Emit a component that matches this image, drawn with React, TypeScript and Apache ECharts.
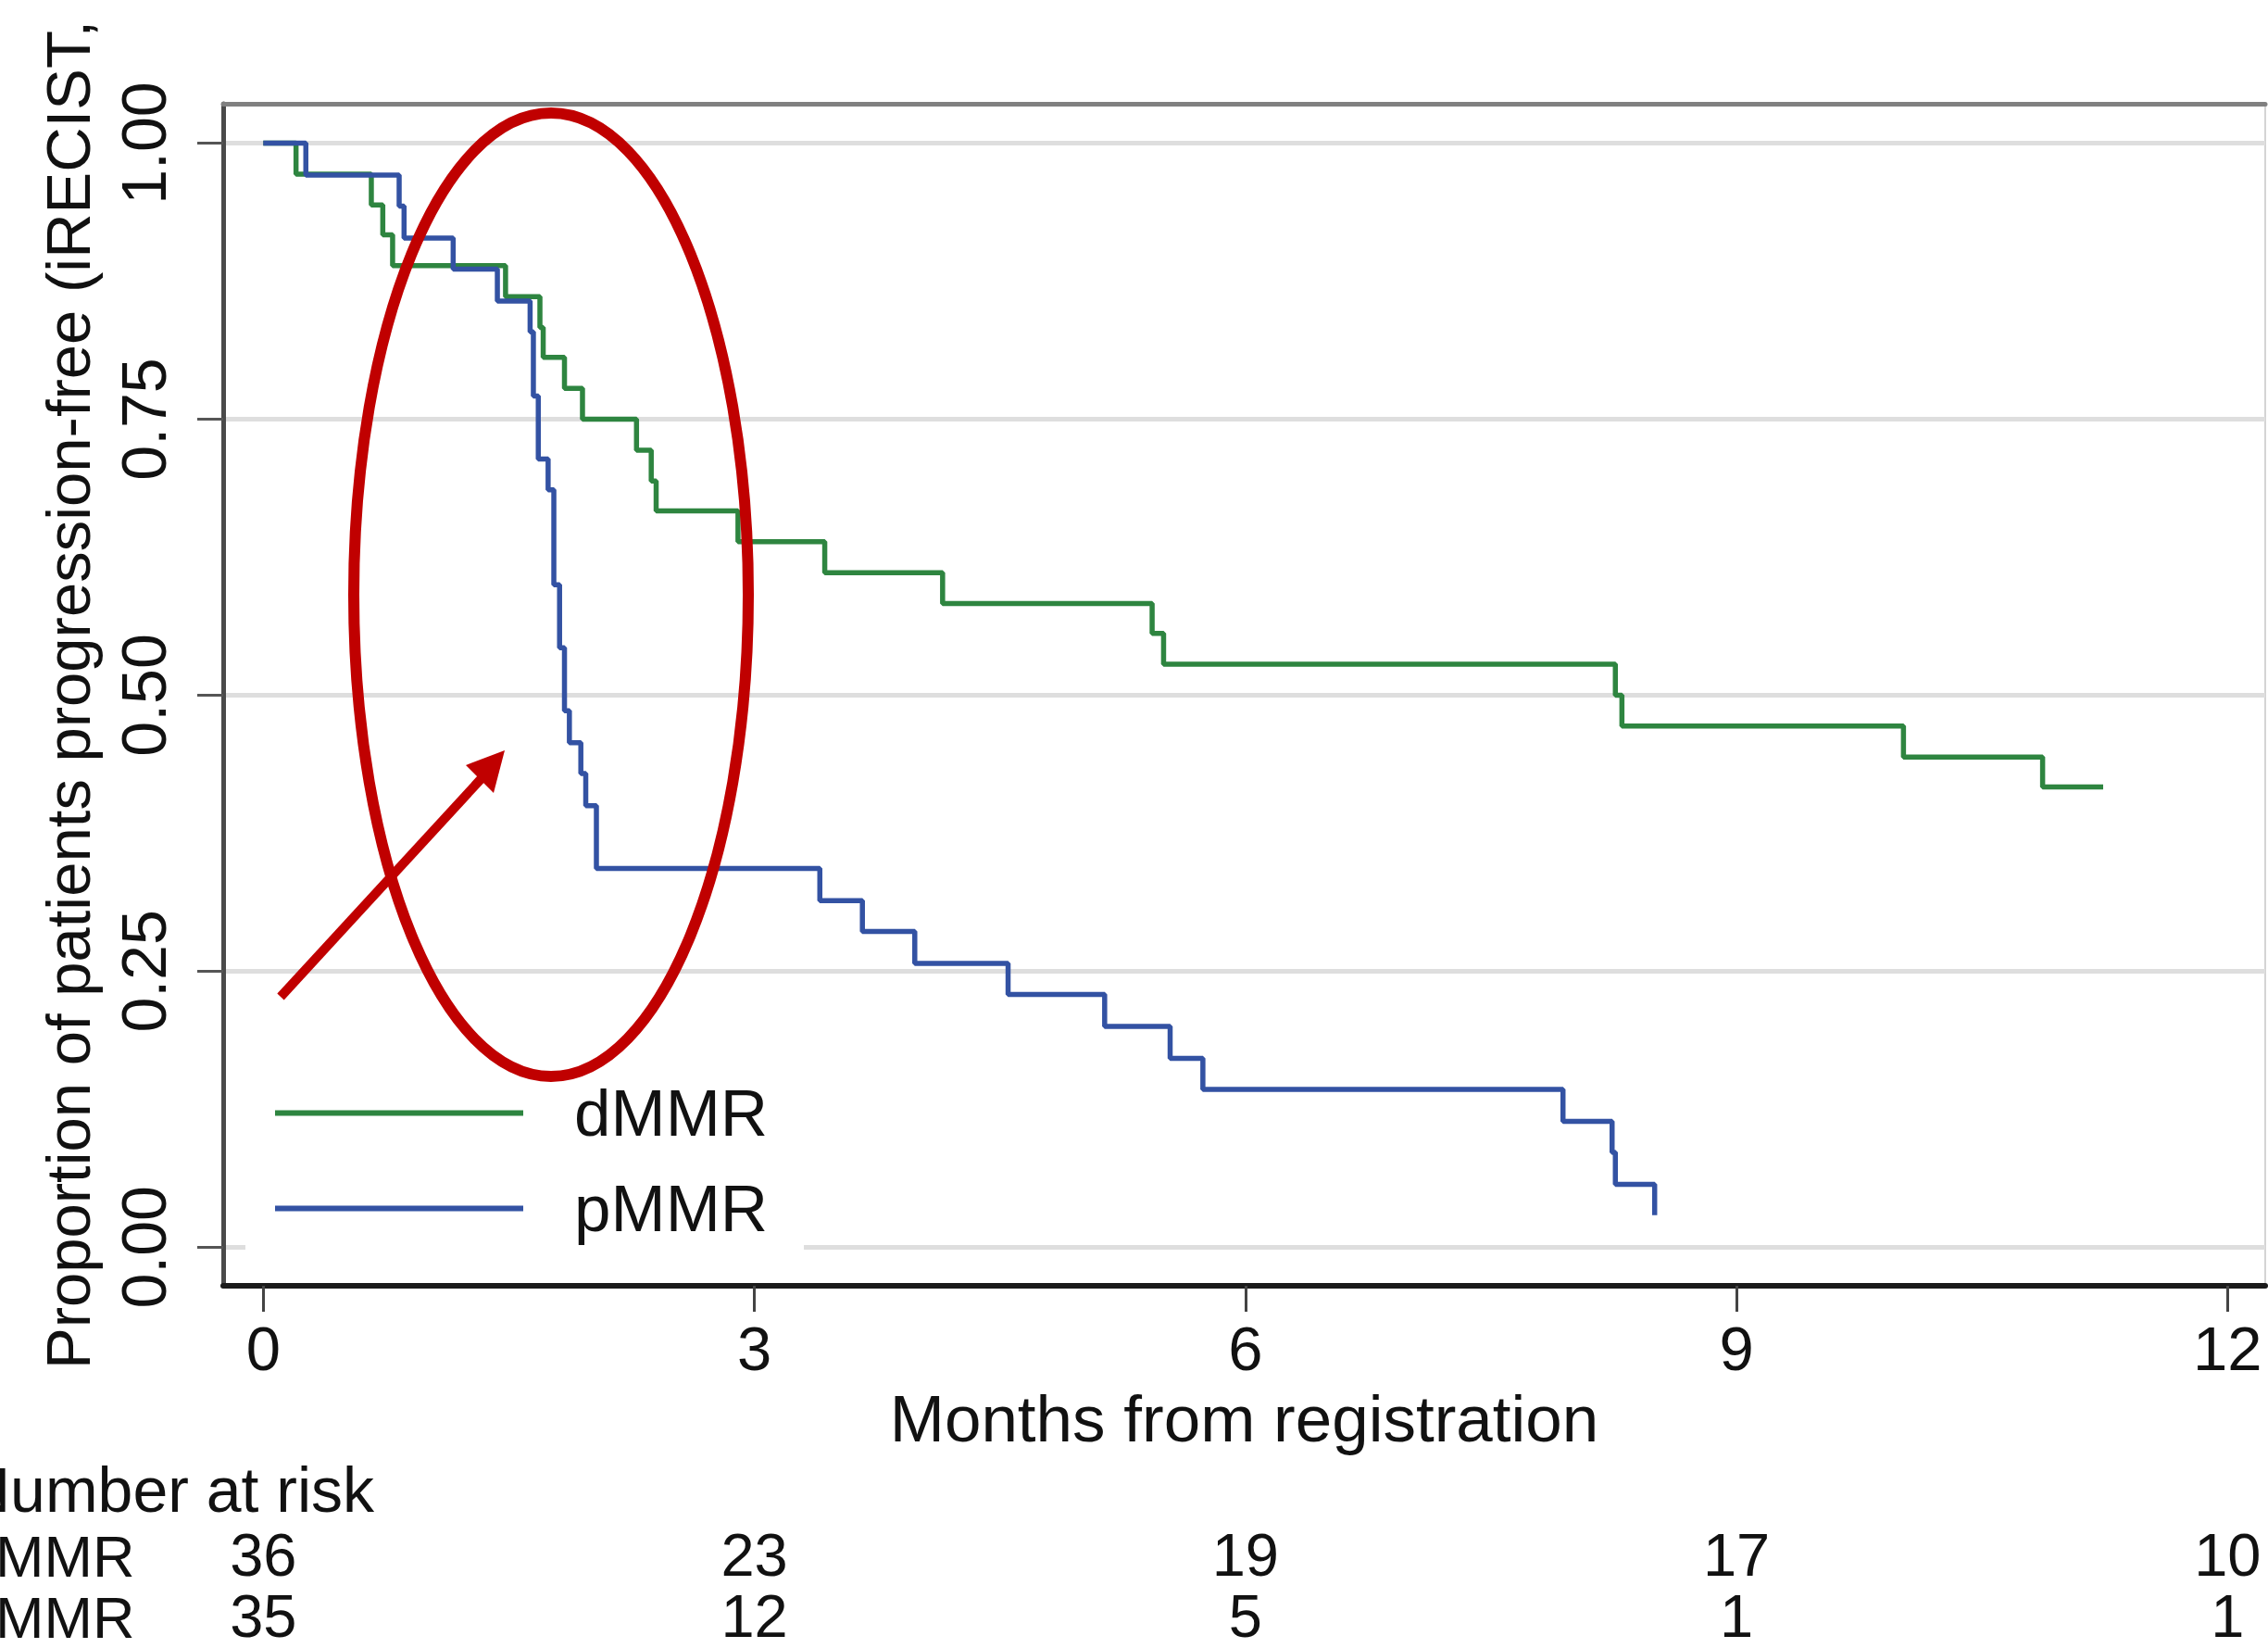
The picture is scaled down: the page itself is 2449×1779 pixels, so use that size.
import React, { useEffect, useRef } from "react";
import * as echarts from "echarts";

const FONT = "'Liberation Sans', Arial, Helvetica, sans-serif";

// Kaplan-Meier step data (months, proportion progression-free)
const dMMRTimes = [0, 0.2, 0.66, 0.73, 0.79, 1.48, 1.69, 1.71, 1.84, 1.95, 2.28, 2.37, 2.4, 2.9, 3.43, 4.15, 5.43, 5.5, 8.26, 8.3, 10.02, 10.87, 11.24];
const dMMRSurv = [1, 0.972, 0.944, 0.917, 0.889, 0.861, 0.833, 0.806, 0.778, 0.75, 0.722, 0.694, 0.667, 0.639, 0.611, 0.583, 0.556, 0.528, 0.5, 0.472, 0.444, 0.417, 0.417];

const pMMRTimes = [0, 0.26, 0.83, 0.86, 1.16, 1.43, 1.63, 1.65, 1.68, 1.74, 1.775, 1.81, 1.84, 1.87, 1.94, 1.97, 2.035, 3.4, 3.66, 3.98, 4.55, 5.14, 5.54, 5.74, 7.94, 8.24, 8.26, 8.5];
const pMMRSurv = [1, 0.971, 0.943, 0.914, 0.886, 0.857, 0.829, 0.771, 0.714, 0.686, 0.6, 0.543, 0.486, 0.457, 0.429, 0.4, 0.343, 0.314, 0.286, 0.257, 0.229, 0.2, 0.171, 0.143, 0.114, 0.086, 0.057, 0.029];

const xTicks = [0, 3, 6, 9, 12];
const yTicks = [0, 0.25, 0.5, 0.75, 1];

const riskTimes = [0, 3, 6, 9, 12];
const dMMRAtRisk = [36, 23, 19, 17, 10];
const pMMRAtRisk = [35, 12, 5, 1, 1];

const seriesNames = ["dMMR", "pMMR"];
const GREEN = "#2e8540";
const BLUE = "#3352a3";

export default function App() {
  const ref = useRef<HTMLDivElement>(null);

  useEffect(() => {
    if (!ref.current) return;
    const chart = echarts.init(ref.current, undefined, { renderer: "svg" });

    const zip = (t: number[], s: number[]) => t.map((v, i) => [v, s[i]]);

    chart.setOption({
      animation: false,
      backgroundColor: "#ffffff",
      textStyle: { fontFamily: FONT },
      grid: {
        left: 241,
        top: 112,
        right: 3,
        bottom: 391,
        show: true,
        borderColor: "#d4d4d4",
        borderWidth: 2,
      },
      xAxis: [
        {
          type: "value",
          min: -0.245,
          max: 12.23,
          position: "bottom",
          axisLine: { show: true, onZero: false, lineStyle: { color: "#1a1a1a", width: 6 } },
          axisTick: {
            show: true,
            length: 28,
            customValues: xTicks,
            lineStyle: { color: "#444", width: 3 },
          },
          axisLabel: {
            customValues: xTicks,
            fontSize: 67,
            color: "#111",
            margin: 34,
            fontFamily: FONT,
          },
          splitLine: { show: false },
          name: "Months from registration",
          nameLocation: "middle",
          nameGap: 108,
          nameTextStyle: { fontSize: 71, color: "#111", fontFamily: FONT },
        },
        {
          type: "value",
          min: -0.245,
          max: 12.23,
          position: "top",
          axisLine: { show: true, onZero: false, lineStyle: { color: "#808080", width: 5 } },
          axisTick: { show: false },
          axisLabel: { show: false },
          splitLine: { show: false },
        },
      ],
      yAxis: {
        type: "value",
        min: -0.0349,
        max: 1.0357,
        axisLine: { show: true, onZero: false, lineStyle: { color: "#4a4a4a", width: 5 } },
        axisTick: {
          show: true,
          length: 28,
          customValues: yTicks,
          lineStyle: { color: "#555", width: 3 },
        },
        axisLabel: {
          customValues: yTicks,
          rotate: 90,
          fontSize: 68,
          color: "#111",
          margin: 52,
          fontFamily: FONT,
          formatter: (v: number) => v.toFixed(2),
        },
        splitLine: { show: true, lineStyle: { color: "#dedede", width: 5 } },
        name: "Proportion of patients progression-free (iRECIST,",
        nameLocation: "middle",
        nameGap: 134,
        nameTextStyle: { fontSize: 67, color: "#111", fontFamily: FONT },
      },
      legend: {
        orient: "vertical",
        left: 265,
        top: 1150,
        padding: [16, 39, 27, 32],
        backgroundColor: "#ffffff",
        itemWidth: 268,
        itemHeight: 6,
        itemGap: 32,
        icon: "rect",
        selectedMode: false,
        textStyle: { fontSize: 71, color: "#111", fontFamily: FONT, padding: [0, 0, 0, 50] },
        data: seriesNames,
      },
      series: [
        {
          type: "line",
          name: seriesNames[0],
          step: "end",
          symbol: "none",
          showSymbol: false,
          data: zip(dMMRTimes, dMMRSurv),
          lineStyle: { color: GREEN, width: 5.5 },
          itemStyle: { color: GREEN },
          z: 3,
        },
        {
          type: "line",
          name: seriesNames[1],
          step: "end",
          symbol: "none",
          showSymbol: false,
          data: zip(pMMRTimes, pMMRSurv),
          lineStyle: { color: BLUE, width: 5.5 },
          itemStyle: { color: BLUE },
          z: 3,
        },
      ],
    });

    const px = (t: number) => chart.convertToPixel({ xAxisIndex: 0 }, t) as number;
    const numFont = { fontSize: 63, fontFamily: FONT, fill: "#111" };

    const table: any[] = [
      {
        type: "text",
        style: { text: "Number at risk", x: -38, y: 1642, align: "left", verticalAlign: "bottom", ...numFont, fontSize: 68 },
      },
      {
        type: "text",
        style: { text: "dMMR", x: -40, y: 1711, align: "left", verticalAlign: "bottom", ...numFont },
      },
      {
        type: "text",
        style: { text: "pMMR", x: -40, y: 1777, align: "left", verticalAlign: "bottom", ...numFont },
      },
    ];
    riskTimes.forEach((t, i) => {
      table.push({
        type: "text",
        style: { text: String(dMMRAtRisk[i]), x: px(t), y: 1711, align: "center", verticalAlign: "bottom", ...numFont, fontSize: 65 },
      });
      table.push({
        type: "text",
        style: { text: String(pMMRAtRisk[i]), x: px(t), y: 1777, align: "center", verticalAlign: "bottom", ...numFont, fontSize: 65 },
      });
    });

    chart.setOption({
      graphic: [
        ...table,
        {
          type: "ellipse",
          z: 100,
          shape: { cx: 595, cy: 642, rx: 213, ry: 520 },
          style: { fill: "none", stroke: "#c00000", lineWidth: 12 },
        },
        {
          type: "line",
          z: 100,
          shape: { x1: 303, y1: 1076, x2: 522, y2: 838 },
          style: { stroke: "#c00000", lineWidth: 10 },
        },
        {
          type: "polygon",
          z: 100,
          shape: { points: [[545, 810], [503, 826], [533, 856]] },
          style: { fill: "#c00000" },
        },
      ],
    });

    return () => chart.dispose();
  }, []);

  return (
    <div
      ref={ref}
      style={{ position: "absolute", left: 0, top: 0, width: 2449, height: 1779 }}
    />
  );
}
